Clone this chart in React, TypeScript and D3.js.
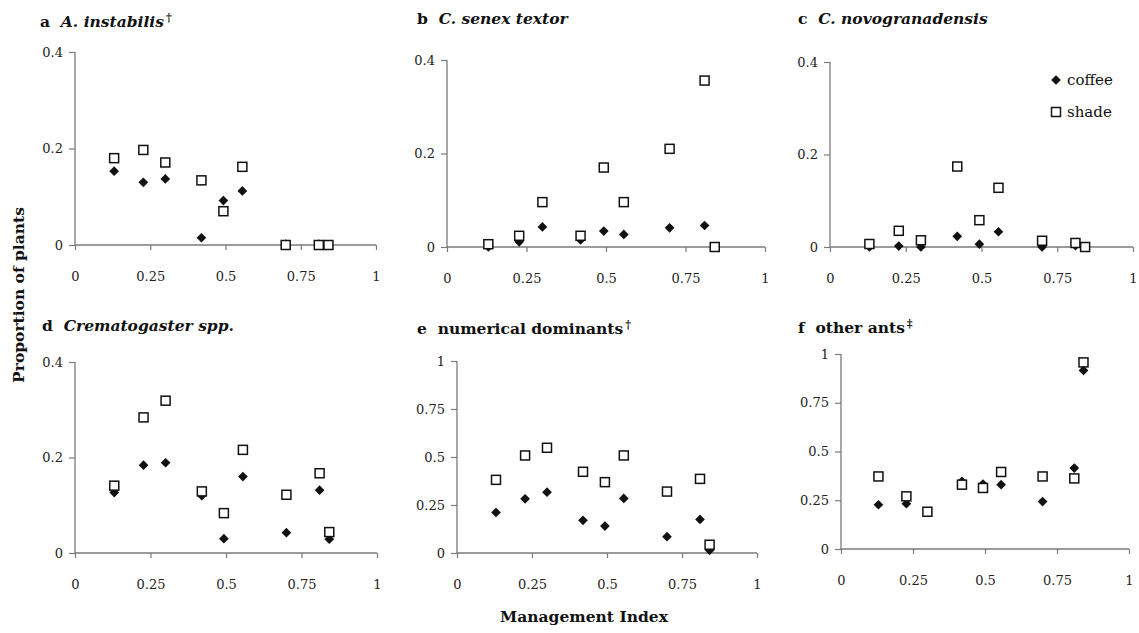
import React, { useRef, useEffect } from 'react';
import * as d3 from 'd3';

// management index of the nine sites (same for every panel)
const mgmtIndex = [0.13, 0.227, 0.30, 0.42, 0.493, 0.556, 0.70, 0.81, 0.842];

const instabilisCoffee = [0.153, 0.13, 0.137, 0.015, 0.092, 0.112, 0.002, 0.002, 0];
const instabilisShade = [0.18, 0.197, 0.171, 0.134, 0.07, 0.162, 0, 0, 0];

const senexCoffee = [0, 0.011, 0.043, 0.015, 0.034, 0.027, 0.041, 0.046, 0];
const senexShade = [0.006, 0.024, 0.096, 0.024, 0.17, 0.096, 0.21, 0.356, 0];

const novoCoffee = [0, 0.002, 0, 0.023, 0.006, 0.033, 0, 0.003, 0];
const novoShade = [0.0065, 0.035, 0.0145, 0.174, 0.058, 0.128, 0.0135, 0.0087, 0];

const cremaCoffee = [0.1265, 0.184, 0.189, 0.12, 0.03, 0.16, 0.0425, 0.1315, 0.029];
const cremaShade = [0.141, 0.284, 0.319, 0.129, 0.0835, 0.216, 0.122, 0.167, 0.0438];

const numDomCoffee = [0.211, 0.282, 0.317, 0.17, 0.14, 0.284, 0.085, 0.175, 0.014];
const numDomShade = [0.381, 0.508, 0.548, 0.423, 0.369, 0.508, 0.32, 0.386, 0.043];

const otherCoffee = [0.227, 0.232, 0.19, 0.347, 0.333, 0.33, 0.243, 0.415, 0.916];
const otherShade = [0.372, 0.27, 0.191, 0.33, 0.313, 0.395, 0.372, 0.362, 0.957];

const xTicks = [0, 0.25, 0.5, 0.75, 1];
const yTicksSmall = [0, 0.2, 0.4];
const yTicksLarge = [0, 0.25, 0.5, 0.75, 1];

const panels = [
    { letter: 'a', name: 'A. instabilis', italic: true, sup: '\u2020', coffee: instabilisCoffee, shade: instabilisShade, yMax: 0.4, yTicks: yTicksSmall,
      x0: 75, x1: 376, y0: 245, y1: 52, tx: 40, ty: 27 },
    { letter: 'b', name: 'C. senex textor', italic: true, sup: '', coffee: senexCoffee, shade: senexShade, yMax: 0.4, yTicks: yTicksSmall,
      x0: 447, x1: 765, y0: 247, y1: 60, tx: 417, ty: 24 },
    { letter: 'c', name: 'C. novogranadensis', italic: true, sup: '', coffee: novoCoffee, shade: novoShade, yMax: 0.4, yTicks: yTicksSmall,
      x0: 830, x1: 1133, y0: 247, y1: 62, tx: 798, ty: 24 },
    { letter: 'd', name: 'Crematogaster spp.', italic: true, sup: '', coffee: cremaCoffee, shade: cremaShade, yMax: 0.4, yTicks: yTicksSmall,
      x0: 75, x1: 377, y0: 553, y1: 362, tx: 42, ty: 331 },
    { letter: 'e', name: 'numerical dominants', italic: false, sup: '\u2020', coffee: numDomCoffee, shade: numDomShade, yMax: 1, yTicks: yTicksLarge,
      x0: 457, x1: 757, y0: 553, y1: 361, tx: 417, ty: 334 },
    { letter: 'f', name: 'other ants', italic: false, sup: '\u2021', coffee: otherCoffee, shade: otherShade, yMax: 1, yTicks: yTicksLarge,
      x0: 841, x1: 1129, y0: 549, y1: 354, tx: 798, ty: 333 },
];

const font = '"DejaVu Serif", serif';
const axisColor = '#7a7a7a';
const diamond = d3.symbol().type(d3.symbolDiamond2).size(60);

const App = () => {
    const ref = useRef(null);
    useEffect(() => {
        const svg = d3.select(ref.current);
        svg.selectAll('*').remove();

        panels.forEach((p) => {
            const xScale = d3.scaleLinear().domain([0, 1]).range([p.x0, p.x1]);
            const yScale = d3.scaleLinear().domain([0, p.yMax]).range([p.y0, p.y1]);
            const g = svg.append('g');

            // x axis
            const xa = g.append('g')
                .attr('transform', 'translate(0,' + p.y0 + ')')
                .call(d3.axisBottom(xScale).tickValues(xTicks).tickSize(5).tickPadding(22).tickFormat(d3.format('')));
            // y axis
            const ya = g.append('g')
                .attr('transform', 'translate(' + p.x0 + ',0)')
                .call(d3.axisLeft(yScale).tickValues(p.yTicks).tickSize(6).tickPadding(6).tickFormat(d3.format('')));
            [xa, ya].forEach((a) => {
                a.select('.domain').attr('stroke', axisColor).attr('stroke-width', 1.3);
                a.selectAll('.tick line').attr('stroke', axisColor).attr('stroke-width', 1.2);
                a.selectAll('.tick text').attr('fill', '#222').style('font-family', font).style('font-size', '13px');
            });
            xa.select('.domain').attr('d', 'M' + p.x0 + ',0H' + p.x1);
            ya.select('.domain').attr('d', 'M0,' + p.y1 + 'V' + p.y0);

            // title
            const t = g.append('text')
                .attr('x', p.tx).attr('y', p.ty)
                .style('font-family', font).style('font-size', '15.5px').style('font-weight', 'bold').attr('fill', '#111');
            t.append('tspan').text(p.letter + '\u00a0\u00a0');
            t.append('tspan').style('font-style', p.italic ? 'italic' : 'normal').text(p.name);
            if (p.sup) {
                t.append('tspan').attr('dx', 2).attr('dy', -6).style('font-size', '11px').text(p.sup);
            }

            const pts = mgmtIndex.map((x, i) => ({ x: x, c: p.coffee[i], s: p.shade[i] }));
            g.selectAll('path.coffee')
                .data(pts)
                .enter()
                .append('path')
                .attr('class', 'coffee')
                .attr('d', diamond)
                .attr('transform', (d) => 'translate(' + xScale(d.x) + ',' + yScale(d.c) + ')')
                .attr('fill', '#111');
            g.selectAll('rect.shade')
                .data(pts)
                .enter()
                .append('rect')
                .attr('class', 'shade')
                .attr('x', (d) => xScale(d.x) - 4.5)
                .attr('y', (d) => yScale(d.s) - 4.5)
                .attr('width', 9)
                .attr('height', 9)
                .attr('fill', 'white')
                .attr('stroke', '#111')
                .attr('stroke-width', 1.5);
        });

        // legend (panel c)
        const lg = svg.append('g').attr('transform', 'translate(1056,80)');
        lg.append('path').attr('d', diamond).attr('fill', '#111');
        lg.append('text').attr('x', 11).attr('y', 5).text('coffee')
            .style('font-family', font).style('font-size', '15px').attr('fill', '#111');
        lg.append('rect').attr('x', -4.5).attr('y', 27.5).attr('width', 9).attr('height', 9)
            .attr('fill', 'white').attr('stroke', '#111').attr('stroke-width', 1.5);
        lg.append('text').attr('x', 11).attr('y', 37).text('shade')
            .style('font-family', font).style('font-size', '15px').attr('fill', '#111');

        // shared axis titles
        svg.append('text')
            .attr('transform', 'translate(24,295) rotate(-90)')
            .attr('text-anchor', 'middle')
            .style('font-family', font).style('font-size', '15.5px').style('font-weight', 'bold')
            .attr('fill', '#111')
            .text('Proportion of plants');
        svg.append('text')
            .attr('x', 584).attr('y', 622)
            .attr('text-anchor', 'middle')
            .style('font-family', font).style('font-size', '15.5px').style('font-weight', 'bold')
            .attr('fill', '#111')
            .text('Management Index');
    }, []);

    return (
        <svg ref={ref} width={1139} height={633}
            style={{ position: 'absolute', left: 0, top: 0, background: 'white' }}>
        </svg>
    );
};

export default App;
